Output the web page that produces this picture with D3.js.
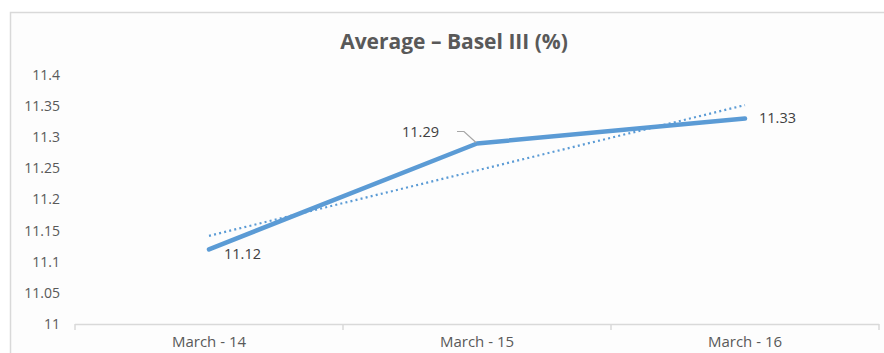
<!DOCTYPE html>
<html><head><meta charset="utf-8">
<script src="https://cdn.jsdelivr.net/npm/d3@7"></script>
<style>body{margin:0;background:#fff}svg{display:block;font-family:"Open Sans","Noto Sans","Liberation Sans",sans-serif}</style>
</head><body><svg id="c" width="884" height="353"></svg>
<script>
const categories = ["March - 14", "March - 15", "March - 16"];
const values = [11.12, 11.29, 11.33];
const yTicks = [11, 11.05, 11.1, 11.15, 11.2, 11.25, 11.3, 11.35, 11.4];
const title = "Average \u2013 Basel III (%)";

const svg = d3.select("#c");
const W = 884, H = 353;
svg.append("rect").attr("x",10.5).attr("y",12.5).attr("width",W).attr("height",H)
  .attr("fill","#fdfdfd").attr("stroke","#d9d9d9").attr("stroke-width",1.5);

const x = d3.scaleBand().domain(categories).range([75, 879]);
const y = d3.scaleLinear().domain([11, 11.4]).range([324, 75]);
const cx = c => x(c) + x.bandwidth()/2;

svg.append("text").attr("x",454).attr("y",49).attr("text-anchor","middle")
  .attr("font-size",21).attr("font-weight","bold").attr("fill","#595959").text(title);

// y labels
svg.append("g").selectAll("text").data(yTicks).join("text")
  .attr("x",60).attr("y",d=>y(d)).attr("dy","0.35em").attr("text-anchor","end")
  .attr("font-size",14).attr("fill","#595959").text(d=>d3.format("")(+d.toFixed(2)));

// x axis
svg.append("line").attr("x1",75).attr("x2",879).attr("y1",324.5).attr("y2",324.5)
  .attr("stroke","#d9d9d9").attr("stroke-width",1.5);
const bounds = categories.map(c=>x(c)).concat([x(categories[categories.length-1])+x.bandwidth()]);
svg.selectAll(".tk").data(bounds).join("line").attr("class","tk")
  .attr("x1",d=>d).attr("x2",d=>d).attr("y1",324).attr("y2",330)
  .attr("stroke","#d9d9d9").attr("stroke-width",1.5);
svg.selectAll(".xl").data(categories).join("text").attr("class","xl")
  .attr("x",d=>cx(d)).attr("y",347).attr("text-anchor","middle")
  .attr("font-size",15).attr("fill","#595959").text(d=>d);

// linear trendline (least squares over category index)
const n = values.length;
const xs = d3.range(n);
const mx = d3.mean(xs), my = d3.mean(values);
const slope = d3.sum(xs.map((xi,i)=>(xi-mx)*(values[i]-my))) / d3.sum(xs.map(xi=>(xi-mx)**2));
const icpt = my - slope*mx;
const trend = xs.map(i=>({c:categories[i], v:icpt+slope*i}));
svg.append("path").datum(trend)
  .attr("d", d3.line().x(d=>cx(d.c)).y(d=>y(d.v)))
  .attr("fill","none").attr("stroke","#5b9bd5").attr("stroke-width",2.2)
  .attr("stroke-dasharray","2,3.2");

// main line
const data = categories.map((c,i)=>({c, v:values[i]}));
svg.append("path").datum(data)
  .attr("d", d3.line().x(d=>cx(d.c)).y(d=>y(d.v)))
  .attr("fill","none").attr("stroke","#5b9bd5").attr("stroke-width",4.5)
  .attr("stroke-linecap","round").attr("stroke-linejoin","round");

// data labels
const lbl = [
  {dx:15, dy:5, anchor:"start"},
  {dx:-38, dy:-12, anchor:"end"},
  {dx:14, dy:-1, anchor:"start"}
];
svg.selectAll(".dl").data(data).join("text").attr("class","dl")
  .attr("x",(d,i)=>cx(d.c)+lbl[i].dx).attr("y",(d,i)=>y(d.v)+lbl[i].dy).attr("dy","0.35em")
  .attr("text-anchor",(d,i)=>lbl[i].anchor).attr("font-size",14.5).attr("fill","#404040")
  .text(d=>d.v.toFixed(2));
// leader line for March - 15
const p = data[1];
svg.append("path")
  .attr("d", `M${cx(p.c)-20},${y(p.v)-12}H${cx(p.c)-13}L${cx(p.c)-1},${y(p.v)-1}`)
  .attr("fill","none").attr("stroke","#a6a6a6").attr("stroke-width",1.2);
</script></body></html>
